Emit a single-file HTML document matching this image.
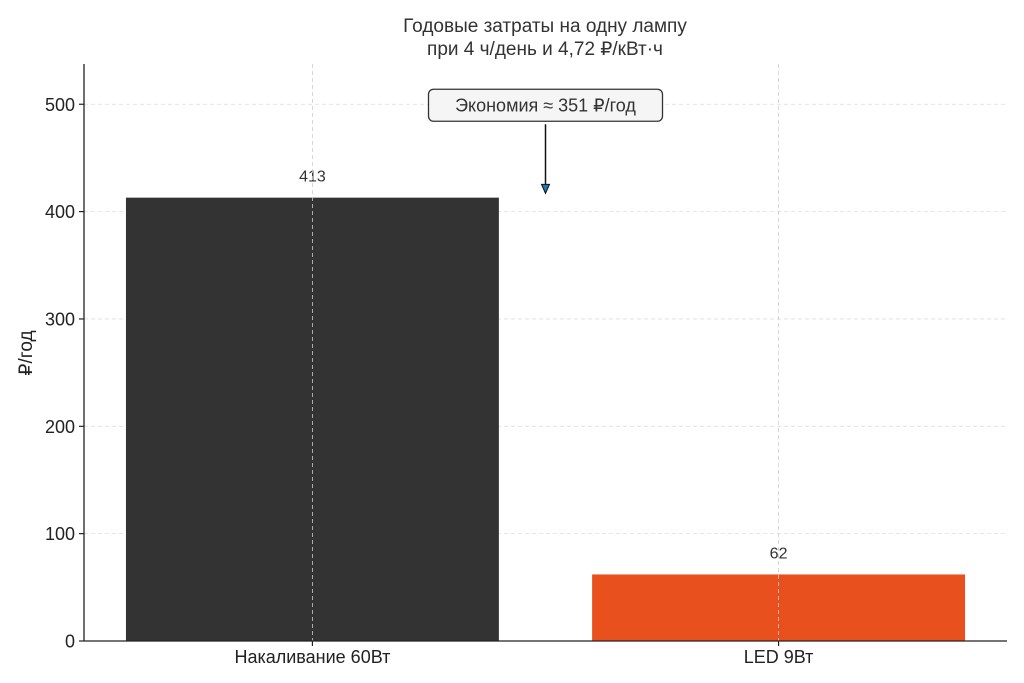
<!DOCTYPE html>
<html><head><meta charset="utf-8">
<style>
html,body{margin:0;padding:0;background:#fff;}
svg{display:block;font-family:"Liberation Sans","DejaVu Sans",sans-serif;}
</style></head>
<body>
<svg id="chart" width="1024" height="683" viewBox="0 0 1024 683" xmlns="http://www.w3.org/2000/svg">
<g>
<text x="545" y="32" text-anchor="middle" font-size="19" fill="#333">Годовые затраты на одну лампу</text>
<text x="545" y="55" text-anchor="middle" font-size="19" fill="#333">при 4 ч/день и 4,72 ₽/кВт·ч</text>
</g>
<g id="grid"></g>
<g id="bars"></g>
<g id="vgrid"></g>
<g id="axes"></g>
<text transform="translate(32,353) rotate(-90)" text-anchor="middle" font-size="19" fill="#222">₽/год</text>
<g id="annot"></g>
</svg>
<script>
const categories = ["Накаливание 60Вт", "LED 9Вт"];
const values = [413, 62];
const colors = ["#333333", "#e8501d"];
const yTicks = [0, 100, 200, 300, 400, 500];
const savingsLabel = "Экономия ≈ 351 ₽/год";
const savingsArrowY = 417;
const savingsTextY = 500;

const NS = "http://www.w3.org/2000/svg";
const L = 84, R = 1007, T = 64, B = 641;
const yMax = 537.5;
const xMin = -0.49, xMax = 1.49;
function yS(v){ return B - v / yMax * (B - T); }
function xS(i){ return L + (i - xMin) / (xMax - xMin) * (R - L); }
const bw = 0.8 * (xS(1) - xS(0));
function mk(tag, attrs, parent){ const e = document.createElementNS(NS, tag); for (const k in attrs) e.setAttribute(k, attrs[k]); parent.appendChild(e); return e; }

const grid = document.getElementById("grid");
const axes = document.getElementById("axes");
yTicks.forEach(t => {
  const y = yS(t);
  if (t > 0) {
    const g = mk("line", {x1:L, x2:R, y1:y, y2:y, stroke:"#ddd", "stroke-width":0.8, "stroke-dasharray":"4,3"}, grid);
    
    
  }
  const tk = mk("line", {x1:L-5, x2:L, y1:y, y2:y, stroke:"#222", "stroke-width":1.2}, axes);
  
  
  const tl = mk("text", {x:L-9, y:y+6.5, "text-anchor":"end", "font-size":18, fill:"#222"}, axes);
  tl.textContent = t;
  
  
});

const bars = document.getElementById("bars");
const vgrid = document.getElementById("vgrid");
categories.forEach((c, i) => {
  const cx = xS(i);
  const r = mk("rect", {x:cx-bw/2, y:yS(values[i]), width:bw, height:B-yS(values[i]), fill:colors[i]}, bars);
  
  
  const vl = mk("text", {x:cx, y:yS(values[i])-16, "text-anchor":"middle", "font-size":16, fill:"#333"}, bars);
  vl.textContent = values[i];
  
  
  const g = mk("line", {x1:cx, x2:cx, y1:T, y2:B, stroke:"#ccc", "stroke-width":0.8, "stroke-dasharray":"4,3"}, vgrid);
  
  
  const tk = mk("line", {x1:cx, x2:cx, y1:B, y2:B+5, stroke:"#222", "stroke-width":1.2}, axes);
  
  
  const tl = mk("text", {x:cx, y:B+22, "text-anchor":"middle", "font-size":18, fill:"#222"}, axes);
  tl.textContent = c;
  
  
});
const sl = mk("line", {x1:L, x2:L, y1:T, y2:B, stroke:"#222", "stroke-width":1.3}, axes);


const sb = mk("line", {x1:L, x2:R, y1:B, y2:B, stroke:"#222", "stroke-width":1.3}, axes);



const an = document.getElementById("annot");
const ax = xS(0.5);
const ty = yS(savingsTextY);
const tipY = yS(savingsArrowY);
const al = mk("line", {x1:ax, x2:ax, y1:ty+20, y2:tipY-7, stroke:"#111", "stroke-width":1.5}, an);


const ah = mk("polygon", {points:`${ax-4},${tipY-9} ${ax+4},${tipY-9} ${ax},${tipY}`, fill:"#1f77b4", stroke:"#111", "stroke-width":1}, an);


const bx = mk("rect", {x:ax-117, y:ty-15, width:234, height:32, rx:5, fill:"#f5f5f5", stroke:"#333", "stroke-width":1.3}, an);


const at = mk("text", {x:ax, y:ty+7, "text-anchor":"middle", "font-size":18, fill:"#333"}, an);
at.textContent = savingsLabel;


</script>
</body></html>
